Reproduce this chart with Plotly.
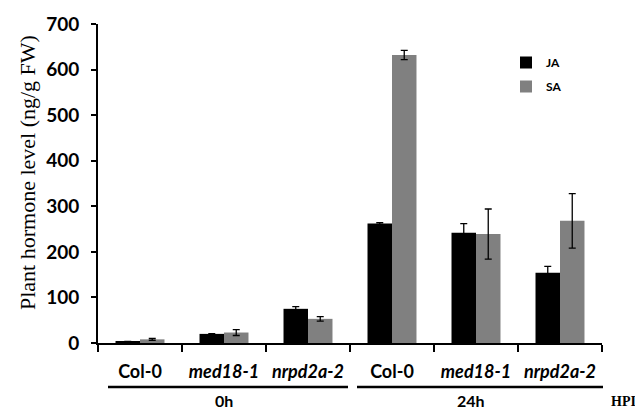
import plotly.graph_objects as go

categories = ["0h|Col-0", "0h|med18-1", "0h|nrpd2a-2", "24h|Col-0", "24h|med18-1", "24h|nrpd2a-2"]
tick_labels = ["Col-0", "<i>med18-1</i>", "<i>nrpd2a-2</i>",
               "Col-0", "<i>med18-1</i>", "<i>nrpd2a-2</i>"]
ja_values = [3, 20, 75, 262, 242, 154]
ja_errors = [0.5, 0.5, 5, 2, 20, 14]
sa_values = [8, 23, 53, 632, 239, 268]
sa_errors = [2, 6.5, 5, 10, 55, 60]
group_labels = ["0h", "24h"]
y_ticks = [0, 100, 200, 300, 400, 500, 600, 700]

W, H = 635, 410
L, R, T, B = 98, 33, 24, 67
pw, ph = W - L - R, H - T - B

def px_x(p):
    return (p - L) / pw

def px_y(p):
    return (H - B - p) / ph

sans = "Lato"
err = dict(type="data", thickness=1.3, width=3.5, color="black")

fig = go.Figure()
fig.add_trace(go.Bar(name="JA", x=categories, y=ja_values, legendgroup="JA",
                     marker=dict(color="#000000", line=dict(width=0)),
                     error_y=dict(array=ja_errors, **err)))
fig.add_trace(go.Bar(name="SA", x=categories, y=sa_values, legendgroup="SA",
                     marker=dict(color="#808080", line=dict(width=0)),
                     error_y=dict(array=sa_errors, **err)))

fig.update_layout(
    width=W, height=H,
    margin=dict(l=L, r=R, t=T, b=B, autoexpand=False),
    paper_bgcolor="white", plot_bgcolor="white",
    barmode="group", bargap=0.417, bargroupgap=0,
    showlegend=True,
    legend=dict(x=px_x(506), y=px_y(48), xanchor="left", yanchor="top",
                font=dict(family=sans, size=12, color="black", weight="bold"),
                itemwidth=30, tracegroupgap=5, bgcolor="rgba(0,0,0,0)"),
    xaxis=dict(
        type="category", tickvals=categories, ticktext=tick_labels, automargin=False,
        tickson="boundaries", ticks="outside", ticklen=7, tickwidth=2, tickcolor="black",
        showline=True, linecolor="black", linewidth=2,
        tickfont=dict(family=sans, size=18, color="black", weight="bold"),
        ticklabelstandoff=11, showgrid=False,
        range=[-0.5, 5.5],
    ),
    yaxis=dict(
        range=[0, 700], tickvals=y_ticks, ticks="outside", ticklen=5, tickwidth=2, tickcolor="black",
        showline=True, linecolor="black", linewidth=2, showgrid=False, zeroline=False, automargin=False,
        tickfont=dict(family=sans, size=19, color="black", weight="bold"),
        ticklabelstandoff=8,
    ),
)

# group underlines
fig.add_shape(type="line", xref="paper", yref="paper", x0=px_x(108), x1=px_x(348),
              y0=px_y(387), y1=px_y(387), line=dict(color="black", width=2.5))
fig.add_shape(type="line", xref="paper", yref="paper", x0=px_x(357), x1=px_x(603),
              y0=px_y(387), y1=px_y(387), line=dict(color="black", width=2.5))

ann = dict(xref="paper", yref="paper", showarrow=False, xanchor="center", yanchor="middle")
fig.add_annotation(text=group_labels[0], x=px_x(224), y=px_y(400),
                   font=dict(family=sans, size=16, color="black", weight="bold"), **ann)
fig.add_annotation(text=group_labels[1], x=px_x(471), y=px_y(400),
                   font=dict(family=sans, size=16, color="black", weight="bold"), **ann)
fig.add_annotation(text="HPI", x=px_x(623), y=px_y(401),
                   font=dict(family="Liberation Serif", size=14, color="black", weight="bold"), **ann)
fig.add_annotation(text="Plant hormone level (ng/g FW)", x=px_x(27), y=px_y(173), textangle=-90,
                   font=dict(family="Liberation Serif", size=22, color="black"), **ann)

fig.write_html("out.html", config={"displayModeBar": False},
               post_script="document.body.style.margin='0';document.body.style.overflow='hidden';")
